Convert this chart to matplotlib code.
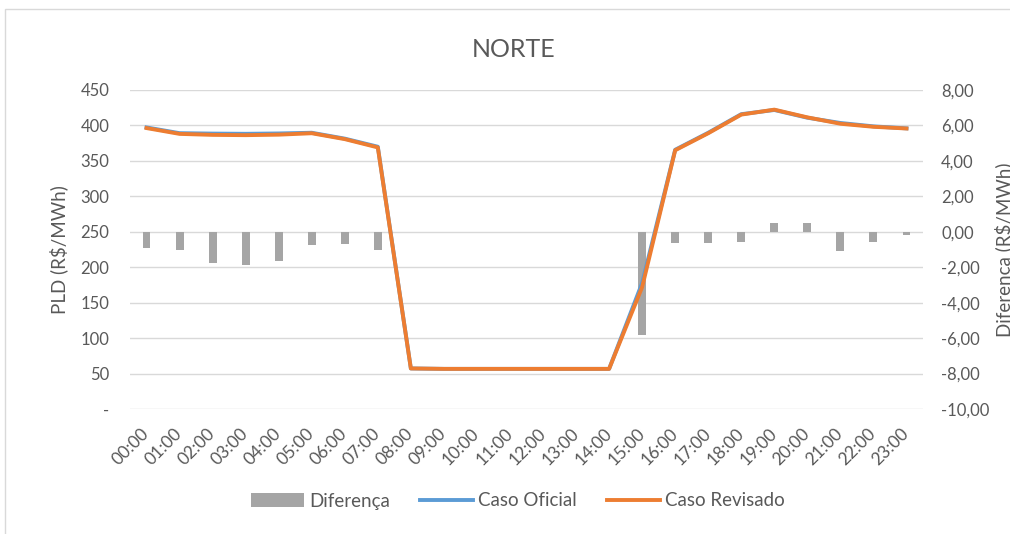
import numpy as np
import matplotlib
matplotlib.use('Agg')
import matplotlib.pyplot as plt
import matplotlib.transforms as mtransforms
from matplotlib.patches import Rectangle

plt.rcParams['font.family'] = ['Lato', 'DejaVu Sans']

# dados
horas = ['%02d:00' % h for h in range(24)]
caso_oficial = [397.2, 389.1, 388.5, 388.2, 388.7, 389.7, 381.4, 370.0,
                57.2, 56.6, 56.6, 56.6, 56.6, 56.6, 56.6, 177.8,
                365.7, 389.7, 415.9, 421.8, 410.9, 403.5, 398.7, 395.9]
caso_revisado = [396.3, 388.1, 386.7, 386.3, 387.0, 389.0, 380.7, 369.0,
                 57.2, 56.6, 56.6, 56.6, 56.6, 56.6, 56.6, 172.0,
                 365.0, 389.0, 415.3, 422.3, 411.4, 402.4, 398.1, 395.7]
diferenca = [-0.92, -1.02, -1.77, -1.87, -1.66, -0.72, -0.70, -1.04,
             0, 0, 0, 0, 0, 0, 0, -5.80,
             -0.66, -0.66, -0.57, 0.49, 0.49, -1.06, -0.58, -0.19]

cinza_txt = '#595959'
W, H = 1010, 534

fig = plt.figure(figsize=(W / 100, H / 100), dpi=100)
ax = fig.add_axes([130 / W, 1 - 409 / H, (923 - 130) / W, (409 - 90) / H])
ax2 = ax.twinx()
ax.set_zorder(2)
ax2.set_zorder(1)
ax.patch.set_visible(False)

x = np.arange(len(horas))

# barras no eixo secundario
ax2.bar(x, diferenca, width=0.24, color='#A5A5A5', label='Diferença')
ax2.set_ylim(-10, 8)
ax2.set_yticks(np.arange(-10, 9, 2))
ax2.set_yticklabels([('%.2f' % v).replace('.', ',') for v in np.arange(-10, 9, 2)])
ax2.grid(axis='y', color='#D9D9D9', lw=1)
ax2.set_axisbelow(True)

l1, = ax.plot(x, caso_oficial, color='#5B9BD5', lw=2.8, label='Caso Oficial')
l2, = ax.plot(x, caso_revisado, color='#ED7D31', lw=2.8, label='Caso Revisado')
ax.set_xlim(-0.5, 23.5)
ax.set_ylim(0, 450)
ax.set_yticks(range(0, 451, 50))
ax.set_yticklabels(['-'] + [str(v) for v in range(50, 451, 50)])
ax.set_xticks(x)
ax.set_xticklabels(horas, rotation=45, ha='right', va='center', rotation_mode='anchor')
desloc = mtransforms.ScaledTranslation(4 / 100, -2 / 100, fig.dpi_scale_trans)
for lbl in ax.get_xticklabels():
    lbl.set_transform(lbl.get_transform() + desloc)

for a in (ax, ax2):
    for s in a.spines.values():
        s.set_visible(False)
ax.tick_params(axis='y', length=0, pad=15, labelsize=12, labelcolor=cinza_txt)
ax.tick_params(axis='x', length=0, pad=16, labelsize=12.5, labelcolor=cinza_txt)
ax2.tick_params(axis='y', length=0, pad=13, labelsize=12, labelcolor=cinza_txt)

ax.set_ylabel('PLD (R$/MWh)', fontsize=13.5, color=cinza_txt)
ax.yaxis.set_label_coords(-0.078, 0.5)
ax2.set_ylabel('Diferença (R$/MWh)', fontsize=13.5, color=cinza_txt)
ax2.yaxis.set_label_coords(1.091, 0.5)

fig.text(514 / W, 1 - 57 / H, 'NORTE', ha='center', va='baseline',
         fontsize=18, color=cinza_txt)

barras = ax2.containers[0]
fig.legend([barras, l1, l2], ['Diferença', 'Caso Oficial', 'Caso Revisado'],
           loc='center', bbox_to_anchor=(518 / W, 1 - 501 / H), ncol=3,
           frameon=False, fontsize=13.5, handlelength=2.8, handletextpad=0.3,
           columnspacing=1.6, labelcolor=cinza_txt)

# moldura do grafico
fig.patches.append(Rectangle((5 / W, -0.1), 1.2, 1 - 9 / H + 0.1,
                             transform=fig.transFigure, fill=False,
                             edgecolor='#D9D9D9', lw=1))

fig.savefig('out.png', dpi=100)
